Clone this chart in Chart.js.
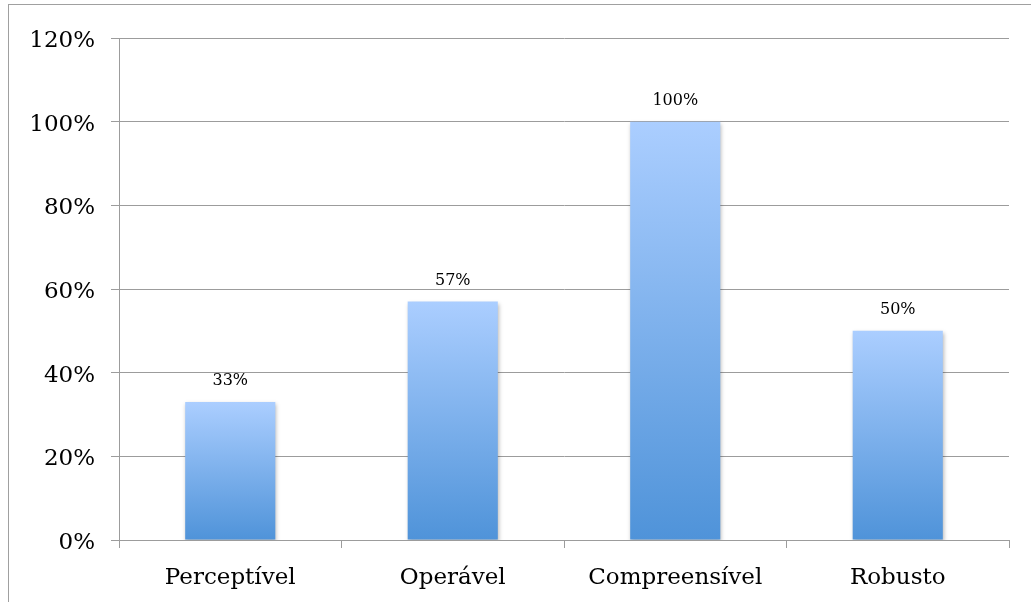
<!DOCTYPE html>
<html>
<head>
<meta charset="utf-8">
<script src="https://cdn.jsdelivr.net/npm/chart.js@4"></script>
<style>
  html, body { margin: 0; padding: 0; background: #fff; overflow: hidden; }
  #frame {
    position: absolute; left: 8px; top: 4px; width: 1030px; height: 620px;
    border: 1px solid #a0a0a0; box-sizing: border-box;
  }
  #wrap { position: absolute; left: 0; top: 0; width: 1031px; height: 602px; }
</style>
</head>
<body>
<div id="frame"></div>
<div id="wrap"><canvas id="chart"></canvas></div>
<script>
const categories = ['Perceptível', 'Operável', 'Compreensível', 'Robusto'];
const values = [33, 57, 100, 50];
const yTicks = [0, 20, 40, 60, 80, 100, 120];

const serif = '"DejaVu Serif", "Liberation Serif", serif';
const gridColor = '#9c9c9c';

// vertical gradient across each bar, light at the top
function barFill(context) {
  const chart = context.chart;
  if (!chart.chartArea || context.raw === undefined) return '#7fb0ec';
  const y = chart.scales.y;
  const top = y.getPixelForValue(context.raw);
  const bottom = y.getPixelForValue(0);
  const g = chart.ctx.createLinearGradient(0, top, 0, bottom);
  g.addColorStop(0, '#abceff');
  g.addColorStop(1, '#4f93d9');
  return g;
}

const barShadow = {
  id: 'barShadow',
  beforeDatasetDraw(chart) {
    const ctx = chart.ctx;
    ctx.save();
    ctx.shadowColor = 'rgba(0,0,0,0.28)';
    ctx.shadowBlur = 4;
    ctx.shadowOffsetX = 1;
    ctx.shadowOffsetY = 2;
  },
  afterDatasetDraw(chart) {
    chart.ctx.restore();
  }
};

const valueLabels = {
  id: 'valueLabels',
  afterDatasetsDraw(chart) {
    const ctx = chart.ctx;
    const meta = chart.getDatasetMeta(0);
    ctx.save();
    ctx.font = '16px ' + serif;
    ctx.fillStyle = '#000';
    ctx.textAlign = 'center';
    ctx.textBaseline = 'bottom';
    meta.data.forEach((bar, i) => {
      ctx.fillText(values[i] + '%', bar.x, bar.y - 13);
    });
    ctx.restore();
  }
};

new Chart(document.getElementById('chart'), {
  type: 'bar',
  data: {
    labels: categories,
    datasets: [{
      data: values,
      backgroundColor: barFill,
      borderWidth: 0,
      barPercentage: 0.405,
      categoryPercentage: 1
    }]
  },
  options: {
    responsive: true,
    maintainAspectRatio: false,
    animation: false,
    events: [],
    layout: { padding: { top: 38, right: 22, bottom: 0, left: 0 } },
    plugins: {
      legend: { display: false },
      tooltip: { enabled: false }
    },
    scales: {
      x: {
        grid: {
          display: true,
          offset: true,
          drawOnChartArea: false,
          drawTicks: true,
          tickLength: 8,
          color: gridColor
        },
        border: { display: false },
        ticks: {
          color: '#000',
          padding: 16,
          font: { family: serif, size: 23 },
          maxRotation: 0
        },
        afterFit(scale) { scale.height = 62; }
      },
      y: {
        min: 0,
        max: 120,
        afterBuildTicks(scale) { scale.ticks = yTicks.map(v => ({ value: v })); },
        grid: {
          color: gridColor,
          lineWidth: 1,
          tickLength: 8
        },
        border: { display: true, color: gridColor, width: 1 },
        ticks: {
          color: '#000',
          padding: 16,
          labelOffset: 3,
          font: { family: serif, size: 23 },
          callback: v => v + '%'
        },
        afterFit(scale) { scale.width = 119; }
      }
    }
  },
  plugins: [barShadow, valueLabels]
});
</script>
</body>
</html>
